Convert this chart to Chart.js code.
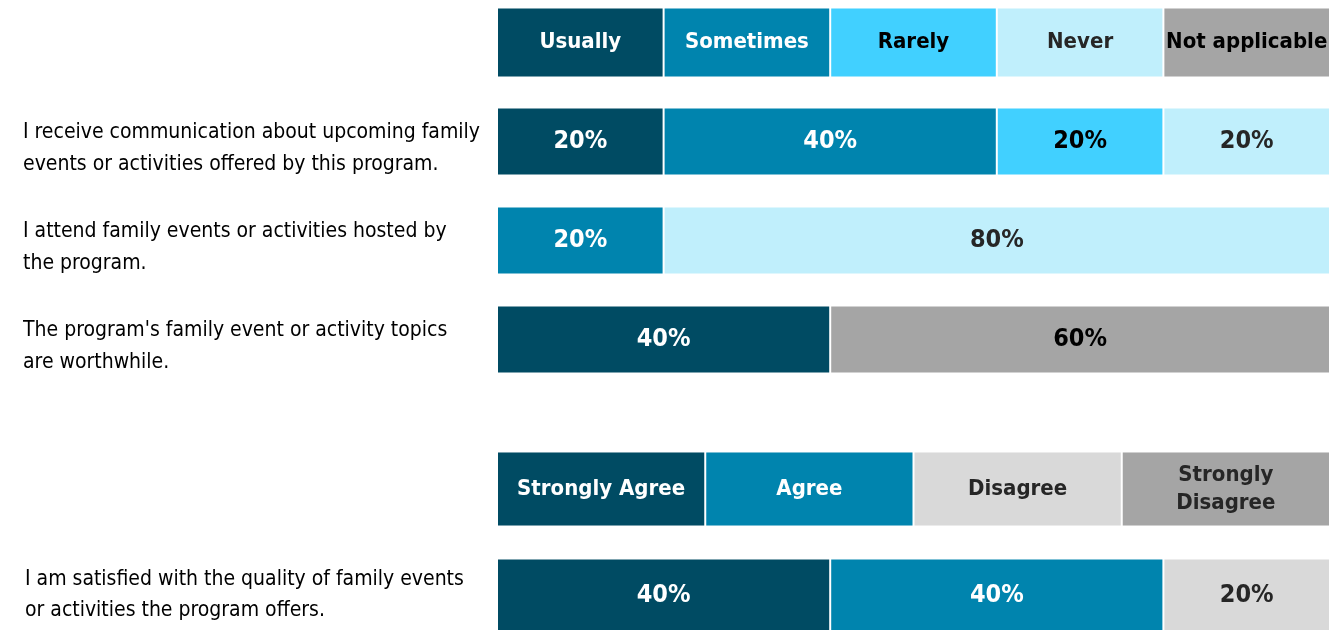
<!DOCTYPE html>
<html>
<head>
<meta charset="utf-8">
<script src="https://cdn.jsdelivr.net/npm/chart.js@4"></script>
<style>
  body { margin: 0; background: #fff; overflow: hidden; width: 1330px; height: 630px; position: relative; }
  .box { position: absolute; left: 0; width: 1330px; }
</style>
</head>
<body>
<div class="box" style="top:-7px;height:396px"><canvas id="myChart"></canvas></div>
<div class="box" style="top:436px;height:212px"><canvas id="myChart2"></canvas></div>
<script>
let FONT = '"Liberation Sans Narrow", "DejaVu Sans Condensed", "Arial Narrow", sans-serif';

// first block: frequency
let labels1 = ['',
  ['I receive communication about upcoming family', 'events or activities offered by this program.'],
  ['I attend family events or activities hosted by', 'the program.'],
  ["The program's family event or activity topics", 'are worthwhile.']];
let names1 = ['Usually', 'Sometimes', 'Rarely', 'Never', 'Not applicable'];
let usually = [null, 20, 0, 40];
let sometimes = [null, 40, 20, 0];
let rarely = [null, 20, 0, 0];
let never = [null, 20, 80, 0];
let notApplicable = [null, 0, 0, 60];
let colors1 = ['#004B63', '#0084AE', '#41D0FF', '#C0EFFC', '#A5A5A5'];
let text1 = ['#ffffff', '#ffffff', '#000000', '#262626', '#000000'];

// second block: agreement
let labels2 = ['',
  ['I am satisfied with the quality of family events', 'or activities the program offers.']];
let names2 = ['Strongly Agree', 'Agree', 'Disagree', ['Strongly', 'Disagree']];
let stronglyAgree = [null, 40];
let agree = [null, 40];
let disagree = [null, 20];
let stronglyDisagree = [null, 0];
let colors2 = ['#004B63', '#0084AE', '#D9D9D9', '#A5A5A5'];
let text2 = ['#ffffff', '#ffffff', '#262626', '#262626'];

// draws header boxes in row 0 and value labels inside the bars
let barText = {
  id: 'barText',
  afterDatasetsDraw(chart, args, opts) {
    let ctx = chart.ctx;
    let x = chart.scales.x;
    let n = chart.data.datasets.length;
    ctx.save();
    ctx.textAlign = 'center';
    ctx.textBaseline = 'middle';
    chart.data.datasets.forEach((ds, i) => {
      let meta = chart.getDatasetMeta(i);
      // header box for the series
      let bar = meta.data[1];
      let h = bar.height;
      let yc = chart.scales.y.getPixelForValue(0);
      let x0 = x.getPixelForValue(i * 100 / n);
      let x1 = x.getPixelForValue((i + 1) * 100 / n);
      ctx.fillStyle = ds.backgroundColor;
      ctx.fillRect(x0 + 1, yc - h / 2, x1 - x0 - 2, h);
      ctx.fillStyle = opts.textColors[i];
      ctx.font = 'bold 22px ' + FONT;
      let lines = Array.isArray(ds.label) ? ds.label : [ds.label];
      lines.forEach((l, k) => {
        ctx.fillText(l, (x0 + x1) / 2, yc + (k - (lines.length - 1) / 2) * 28);
      });
      // value labels
      meta.data.forEach((el, j) => {
        let v = ds.data[j];
        if (!v) return;
        ctx.font = 'bold 25px ' + FONT;
        ctx.fillText(v + '%', (el.x + el.base) / 2, el.y);
      });
    });
    ctx.restore();
  }
};

function makeChart(id, labels, names, series, colors, texts, leftPad, axisW, barPct, offY) {
  return new Chart(document.getElementById(id).getContext('2d'), {
    type: 'bar',
    data: {
      labels: labels,
      datasets: series.map((d, i) => ({
        label: names[i],
        data: d,
        backgroundColor: colors[i],
        borderColor: '#ffffff',
        borderWidth: 1,
        borderSkipped: false
      }))
    },
    options: {
      indexAxis: 'y',
      responsive: true,
      maintainAspectRatio: false,
      animation: false,
      layout: { padding: { left: leftPad, right: 0, top: 0, bottom: 0 } },
      datasets: { bar: { categoryPercentage: 1, barPercentage: barPct } },
      scales: {
        x: { stacked: true, min: 0, max: 100, display: false },
        y: {
          stacked: true,
          grid: { display: false },
          border: { display: false },
          afterFit(scale) {
            scale.width = axisW;
            scale.paddingTop = 0;
            scale.paddingBottom = 0;
          },
          ticks: {
            crossAlign: 'far',
            padding: 0,
            labelOffset: offY,
            color: '#000000',
            font: { family: FONT, size: 21, lineHeight: 1.5 }
          }
        }
      },
      plugins: {
        legend: { display: false },
        tooltip: { enabled: false },
        barText: { textColors: texts }
      }
    },
    plugins: [barText]
  });
}

makeChart('myChart', labels1, names1, [usually, sometimes, rarely, never, notApplicable],
  colors1, text1, 23, 474, 0.687, 7);
makeChart('myChart2', labels2, names2, [stronglyAgree, agree, disagree, stronglyDisagree],
  colors2, text2, 25, 472, 0.689, 0);
</script>
</body>
</html>
